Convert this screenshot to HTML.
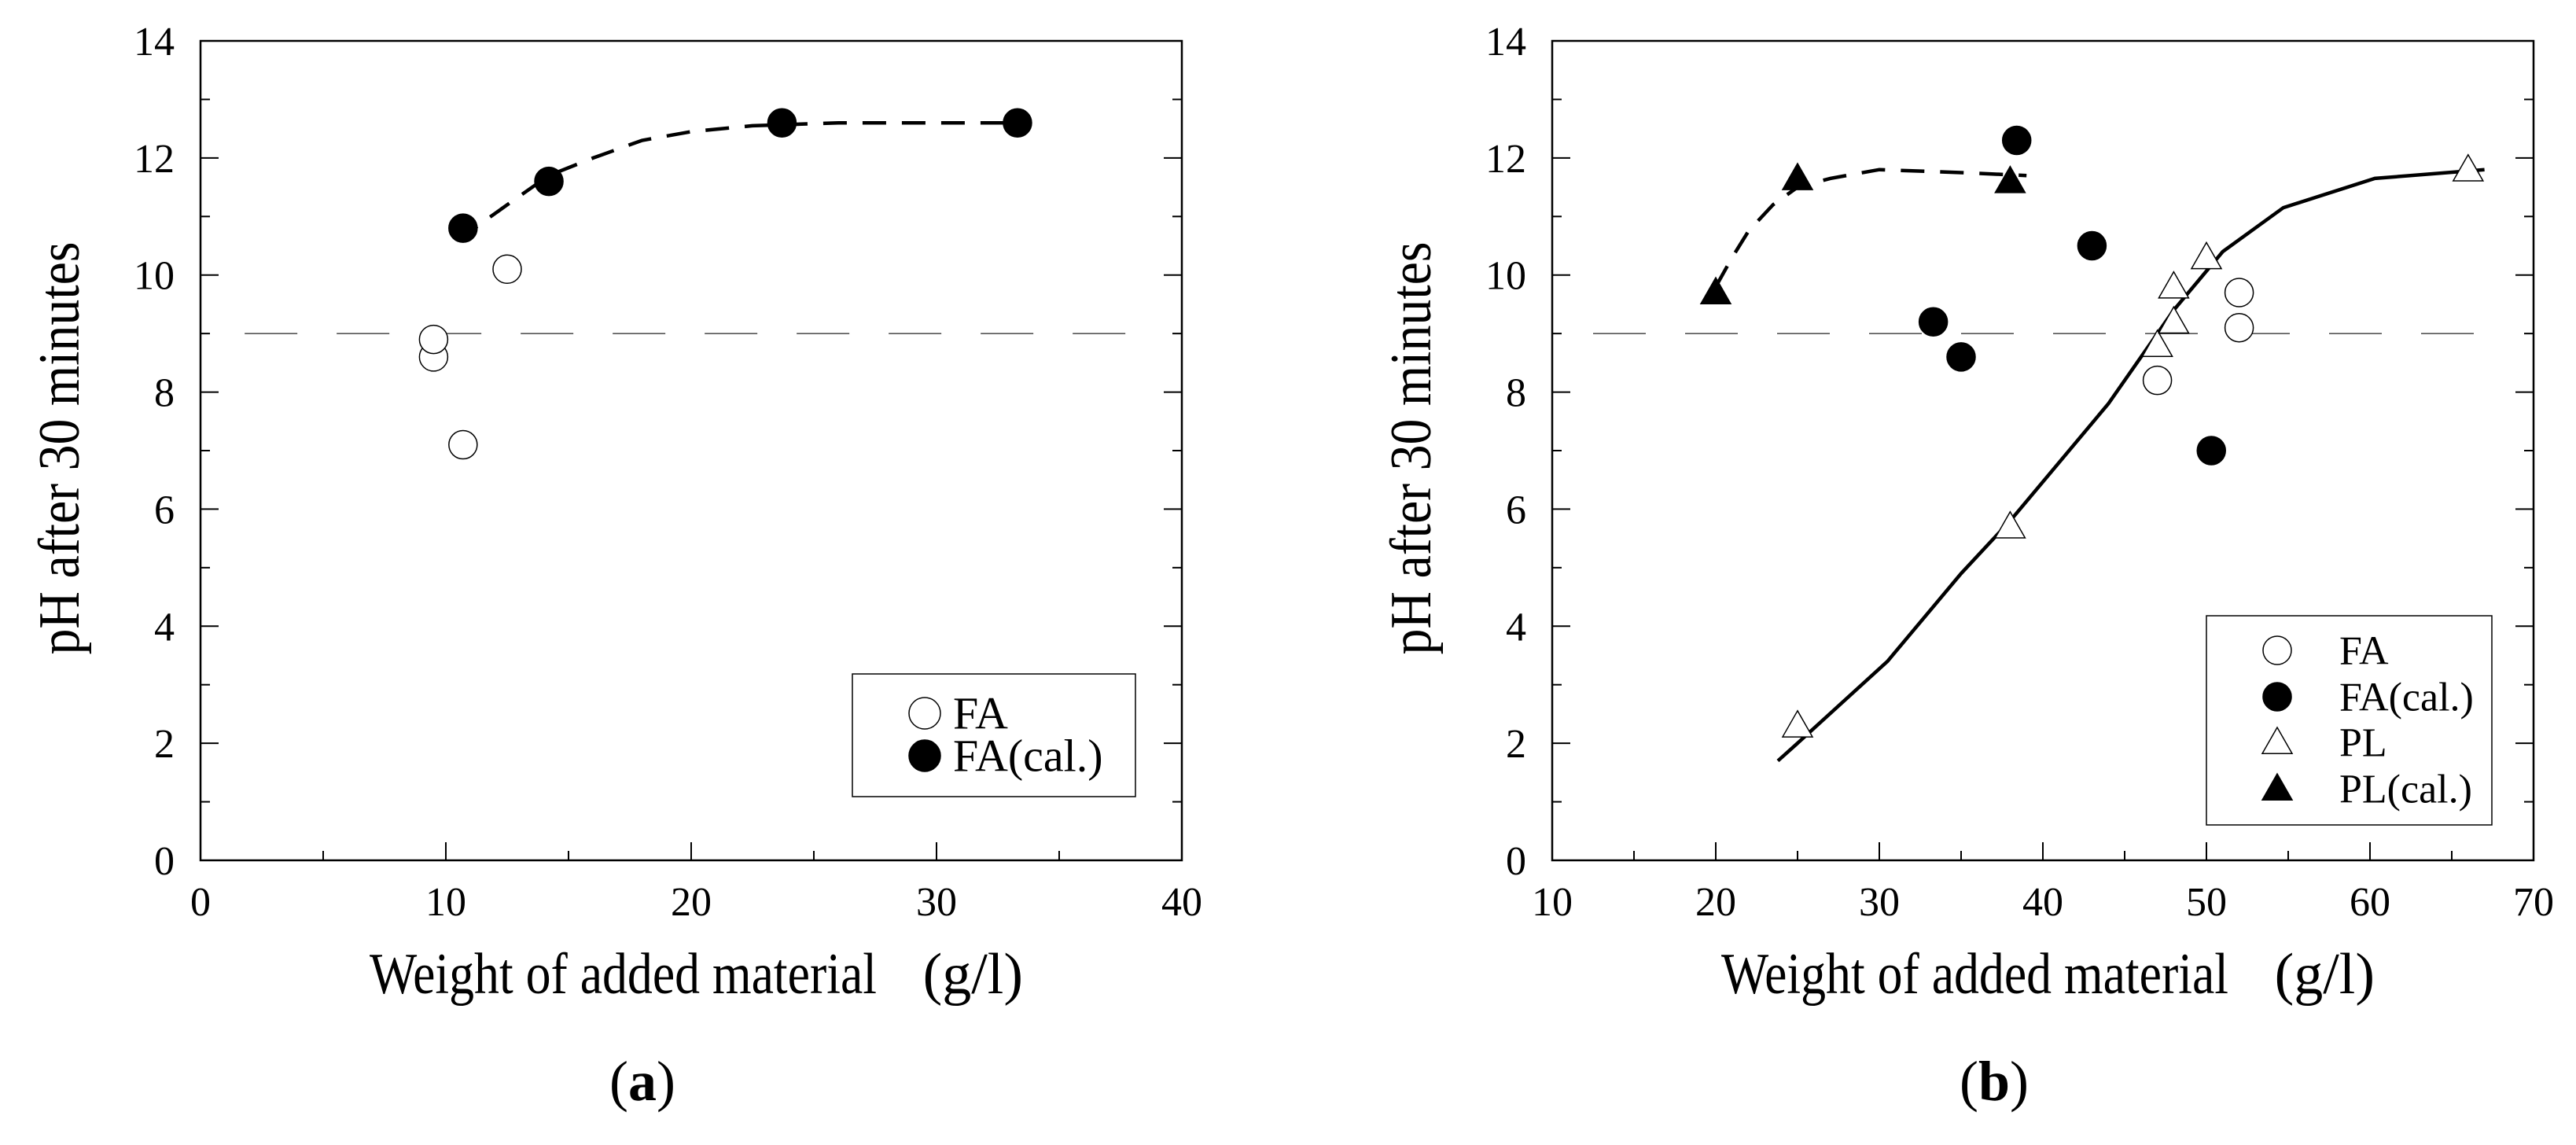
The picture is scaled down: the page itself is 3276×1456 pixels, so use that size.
<!DOCTYPE html>
<html><head><meta charset="utf-8">
<style>
html,body{margin:0;padding:0;background:#fff;}
svg{display:block;}
text{font-family:"Liberation Serif",serif;fill:#000;}
</style></head>
<body>
<svg id="fig" width="3276" height="1456" viewBox="0 0 3276 1456" xmlns="http://www.w3.org/2000/svg"></svg>
<script>
// Panel (a) data
const aFaX = [9.5, 9.5, 10.7, 12.5];
const aFaY = [8.6, 8.9, 7.1, 10.1];
const aCalX = [10.7, 14.2, 23.7, 33.3];
const aCalY = [10.8, 11.6, 12.6, 12.6];
const aCurveX = [10.5, 12.5, 14.2, 16, 18, 20, 22.5, 26, 33];
const aCurveY = [10.6, 11.2, 11.7, 12.0, 12.3, 12.45, 12.55, 12.6, 12.6];
// Panel (b) data
const bFaX = [47, 52, 52];
const bFaY = [8.2, 9.7, 9.1];
const bCalX = [33.3, 35, 38.4, 43, 50.3];
const bCalY = [9.2, 8.6, 12.3, 10.5, 7.0];
const bPlX = [25, 38, 47, 48, 48, 50, 66];
const bPlY = [2.3, 5.7, 8.8, 9.8, 9.2, 10.3, 11.8];
const bPlCalX = [20, 25, 38];
const bPlCalY = [9.7, 11.65, 11.6];
const bDashX = [20, 21, 22, 23.5, 25, 27, 30, 35, 39];
const bDashY = [9.8, 10.3, 10.75, 11.2, 11.5, 11.65, 11.8, 11.75, 11.7];
const bSolidX = [23.8, 25, 30.5, 35, 38, 44, 48, 51, 54.7, 60.3, 67];
const bSolidY = [1.7, 2.0, 3.4, 4.9, 5.8, 7.8, 9.4, 10.4, 11.15, 11.65, 11.8];
const refPH = 9;
const yTicks = [0, 2, 4, 6, 8, 10, 12, 14];
const aXTicks = [0, 10, 20, 30, 40];
const bXTicks = [10, 20, 30, 40, 50, 60, 70];

const NS = "http://www.w3.org/2000/svg";
const svg = document.getElementById('fig');
function mk(tag, attrs, parent) {
  const e = document.createElementNS(NS, tag);
  for (const k in attrs) e.setAttribute(k, attrs[k]);
  (parent || svg).appendChild(e);
  return e;
}

function panel(opt) {
  const g = mk('g', {});
  
  
  const L = opt.left, R = opt.left + 1248, T = 52, B = 1094;
  const sx = v => L + (v - opt.xmin) / (opt.xmax - opt.xmin) * (R - L);
  const sy = v => B - v / 14 * (B - T);
  const frame = mk('rect', {x: L, y: T, width: R - L, height: B - T, fill: 'none', stroke: '#000', 'stroke-width': 2.5}, g);
  
  
  const dx = opt.left - 255;
  for (let v = 0; v <= 14; v += 1) {
    const len = v % 2 === 0 ? 23 : 12;
    mk('line', {x1: L, x2: L + len, y1: sy(v), y2: sy(v), stroke: '#000', 'stroke-width': 2}, g);
    mk('line', {x1: R, x2: R - len, y1: sy(v), y2: sy(v), stroke: '#000', 'stroke-width': 2}, g);
  }
  yTicks.forEach(v => {
    const t = mk('text', {x: 222 + dx, y: sy(v) + 18, 'text-anchor': 'end', 'font-size': 52}, g);
    t.textContent = v;
    
    
  });
  const step = opt.xTicks[1] - opt.xTicks[0];
  for (let v = opt.xmin; v <= opt.xmax + 1e-9; v += step / 2) {
    const major = Math.abs(((v - opt.xmin) / step) % 1) < 1e-6;
    mk('line', {x1: sx(v), x2: sx(v), y1: B, y2: B - (major ? 23 : 12), stroke: '#000', 'stroke-width': 2}, g);
  }
  opt.xTicks.forEach(v => {
    const t = mk('text', {x: sx(v), y: 1164, 'text-anchor': 'middle', 'font-size': 52}, g);
    t.textContent = v;
    
    
  });
  const ref = mk('line', {x1: sx(opt.refFrom), x2: sx(opt.refTo), y1: sy(refPH), y2: sy(refPH), stroke: '#555', 'stroke-width': 1.6, 'stroke-dasharray': '67 50'}, g);
  
  
  const yt = mk('text', {x: 0, y: 0, 'font-size': 74, 'text-anchor': 'middle', textLength: 525, lengthAdjust: 'spacingAndGlyphs', transform: `translate(${100 + dx},570) rotate(-90)`}, g);
  yt.textContent = 'pH after 30 minutes';
  
  
  const xt1 = mk('text', {x: 470 + dx, y: 1263, 'font-size': 74, textLength: 645, lengthAdjust: 'spacingAndGlyphs'}, g);
  xt1.textContent = 'Weight of added material';
  
  
  const xt2 = mk('text', {x: 1301 + dx, y: 1263, 'font-size': 74, 'text-anchor': 'end'}, g);
  xt2.textContent = '(g/l)';
  
  
  const cap = mk('text', {x: 817 + dx, y: 1399, 'font-size': 72, 'text-anchor': 'middle'}, g);
  cap.innerHTML = '(<tspan font-weight="bold">' + opt.label + '</tspan>)';
  
  
  return {g, sx, sy};
}

function curve(p, xs, ys, dash, name) {
  const d = xs.map((x, i) => (i ? 'L' : 'M') + p.sx(x).toFixed(1) + ' ' + p.sy(ys[i]).toFixed(1)).join(' ');
  const e = mk('path', {d, fill: 'none', stroke: '#000', 'stroke-width': 4.5}, p.g);
  if (dash) e.setAttribute('stroke-dasharray', '30 20');
  
  
}
function marker(parent, type, cx, cy, name, r) {
  r = r || 18;
  let e;
  if (type === 'circle-open' || type === 'circle-fill') {
    e = mk('circle', {cx, cy, r, fill: type === 'circle-fill' ? '#000' : '#fff', stroke: '#000', 'stroke-width': 1.5}, parent);
  } else {
    const s = r + 1;
    e = mk('polygon', {points: `${cx},${cy - s} ${cx - s},${cy + s * 0.75} ${cx + s},${cy + s * 0.75}`, fill: type === 'tri-fill' ? '#000' : '#fff', stroke: '#000', 'stroke-width': 1.5}, parent);
  }
  
  
}
function points(p, xs, ys, type, name) {
  xs.forEach((x, i) => marker(p.g, type, p.sx(x), p.sy(ys[i]), name));
}
function legend(p, box, entries, fs, r) {
  const lg = mk('g', {}, p.g);
  
  
  mk('rect', {x: box[0], y: box[1], width: box[2], height: box[3], fill: '#fff', stroke: '#000', 'stroke-width': 1.5}, lg);
  entries.forEach(en => {
    marker(lg, en.type, en.mx, en.y, 'legend-marker', r);
    const t = mk('text', {x: en.tx, y: en.y + fs * 0.34, 'font-size': fs}, lg);
    t.textContent = en.text;
    
    
  });
}

const pa = panel({name: 'panel-a', left: 255, xmin: 0, xmax: 40, xTicks: aXTicks, refFrom: 1.8, refTo: 38, label: 'a'});
curve(pa, aCurveX, aCurveY, true, 'fa-cal-fit-curve');
points(pa, aFaX, aFaY, 'circle-open', 'fa-point');
points(pa, aCalX, aCalY, 'circle-fill', 'fa-cal-point');
legend(pa, [1084, 857, 360, 156], [
  {type: 'circle-open', mx: 1176, tx: 1212, y: 907, text: 'FA'},
  {type: 'circle-fill', mx: 1176, tx: 1212, y: 961, text: 'FA(cal.)'}
], 58, 20);

const pb = panel({name: 'panel-b', left: 1974, xmin: 10, xmax: 70, xTicks: bXTicks, refFrom: 12.5, refTo: 67, label: 'b'});
curve(pb, bDashX, bDashY, true, 'pl-cal-fit-curve');
curve(pb, bSolidX, bSolidY, false, 'pl-fit-curve');
points(pb, bFaX, bFaY, 'circle-open', 'fa-point');
points(pb, bCalX, bCalY, 'circle-fill', 'fa-cal-point');
points(pb, bPlX, bPlY, 'tri-open', 'pl-point');
points(pb, bPlCalX, bPlCalY, 'tri-fill', 'pl-cal-point');
legend(pb, [2806, 783, 363, 266], [
  {type: 'circle-open', mx: 2896, tx: 2975, y: 827, text: 'FA'},
  {type: 'circle-fill', mx: 2896, tx: 2975, y: 886, text: 'FA(cal.)'},
  {type: 'tri-open', mx: 2896, tx: 2975, y: 944, text: 'PL'},
  {type: 'tri-fill', mx: 2896, tx: 2975, y: 1003, text: 'PL(cal.)'}
], 52, 18);
</script>
</body></html>
